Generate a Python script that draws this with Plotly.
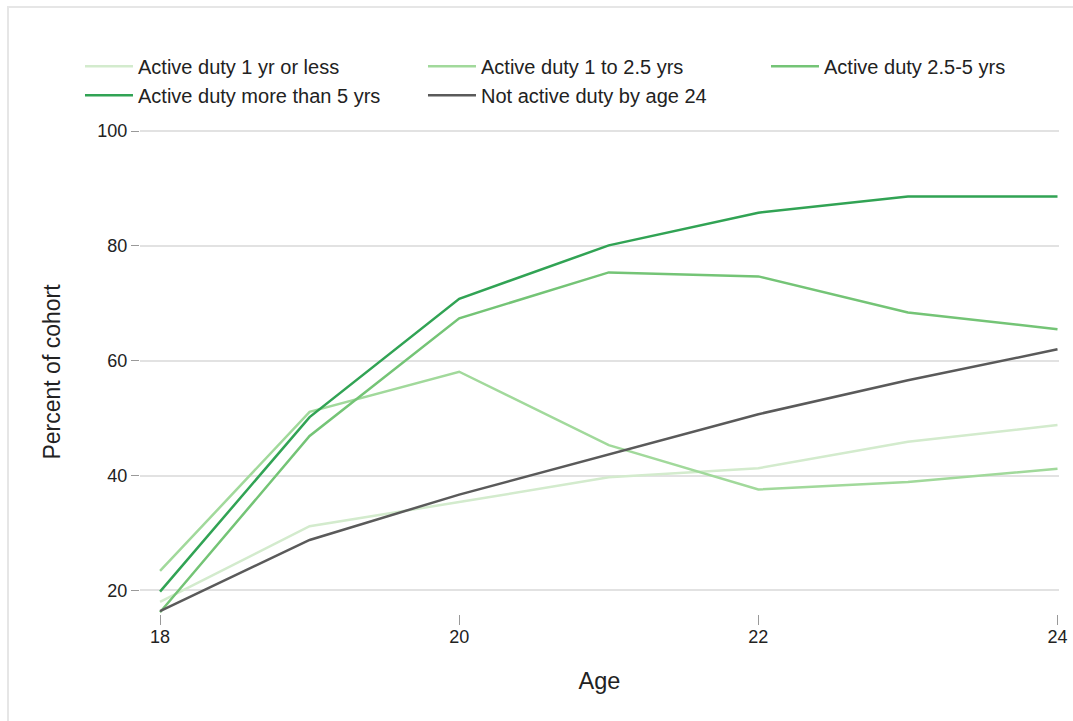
import plotly.graph_objects as go

ages = [18, 19, 20, 21, 22, 23, 24]

duty_1yr_or_less = [18.0, 31.2, 35.4, 39.7, 41.3, 45.9, 48.8]
duty_1_to_2_5 = [23.4, 51.1, 58.1, 45.3, 37.6, 38.9, 41.2]
duty_2_5_to_5 = [16.2, 46.9, 67.4, 75.4, 74.7, 68.4, 65.5]
duty_more_than_5 = [19.8, 50.2, 70.8, 80.1, 85.8, 88.6, 88.6]
not_active_by_24 = [16.4, 28.8, 36.7, 43.7, 50.7, 56.6, 62.0]

series_names = [
    "Active duty 1 yr or less",
    "Active duty 1 to 2.5 yrs",
    "Active duty 2.5-5 yrs",
    "Active duty more than 5 yrs",
    "Not active duty by age 24",
]
series_values = [duty_1yr_or_less, duty_1_to_2_5, duty_2_5_to_5, duty_more_than_5, not_active_by_24]
colors = ["#d3ebcd", "#a1d99b", "#74c476", "#31a354", "#5a5a5a"]

x_ticks = [18, 20, 22, 24]
y_ticks = [20, 40, 60, 80, 100]

font = "Liberation Sans, Arial, sans-serif"

fig = go.Figure()
for name, vals, col in zip(series_names, series_values, colors):
    fig.add_trace(go.Scatter(x=ages, y=vals, mode="lines", name=name,
                             line=dict(color=col, width=2.5)))

fig.update_layout(
    width=1073, height=721,
    paper_bgcolor="white", plot_bgcolor="white",
    margin=dict(l=140, r=14, t=130, b=107, autoexpand=False),
    font=dict(family=font, size=18, color="#222"),
    showlegend=True,
    legend=dict(
        orientation="h", x=-0.0653, y=1.172, xanchor="left", yanchor="top",
        font=dict(size=20, color="#222"),
        entrywidth=280, entrywidthmode="pixels",
        traceorder="normal", itemwidth=48,
    ),
    xaxis=dict(
        range=[17.866, 24.01], tickvals=x_ticks, showgrid=False, zeroline=False,
        showline=False, ticks="outside", ticklen=10, tickcolor="#999", tickwidth=1,
        tickfont=dict(size=18, color="#222"), ticklabelstandoff=-4,
        title=dict(text="Age", font=dict(size=23.5, color="#222"), standoff=26),
    ),
    yaxis=dict(
        range=[15.9, 100.2], tickvals=y_ticks, showgrid=True, gridcolor="#e2e2e2",
        gridwidth=1.5, zeroline=False, showline=False, ticks="outside", ticklen=8,
        tickcolor="#999", tickwidth=1, tickfont=dict(size=18, color="#222"),
        title=dict(text="Percent of cohort", font=dict(size=23, color="#222"), standoff=30),
    ),
    shapes=[dict(type="rect", xref="paper", yref="paper",
                 x0=-0.1436, x1=1.05, y0=-0.3, y1=1.254,
                 line=dict(color="#e6e6e6", width=2), layer="below")],
)

# drop the default 8px body margin so the figure fills the window exactly
fig.write_html("out.html", config={"displayModeBar": False},
               post_script="document.body.style.margin='0';document.body.style.overflow='hidden';")
